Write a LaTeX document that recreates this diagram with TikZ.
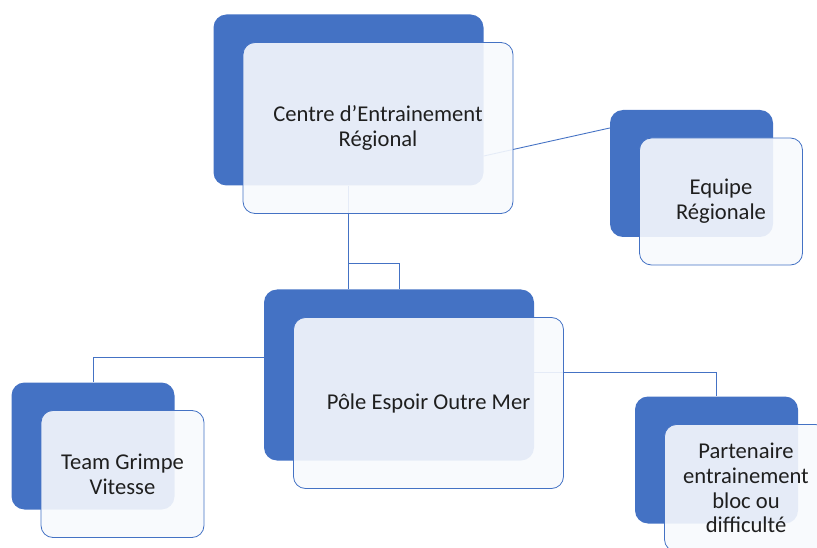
\documentclass[tikz,border=0pt]{standalone}
\usepackage{fontspec}
\setmainfont{Carlito}
\usetikzlibrary{calc,positioning}
\definecolor{accentblue}{HTML}{4472C4}
\definecolor{litefill}{HTML}{F7F9FD}
\tikzset{
  darkbox/.style={rounded corners=13pt, fill=accentblue, draw=none},
  litebox/.style={rounded corners=12pt, draw=accentblue, line width=0.8pt, fill=litefill,
    fill opacity=0.9, text opacity=1, text=black!88, align=center,
    font=\fontsize{22.6}{24.8}\selectfont},
  bigsize/.style={minimum width=270pt, minimum height=171pt, inner sep=0pt},
  smallsize/.style={minimum width=163pt, minimum height=127pt, inner sep=0pt},
  link/.style={draw=accentblue, line width=0.9pt}
}
\begin{document}
\begin{tikzpicture}[x=1pt,y=-1pt]
		\useasboundingbox (0,0) rectangle (817,548);
		
		%%%%% back boxes %%%%%
		\node[darkbox, bigsize]   (cerD)  at (348.5,100) {};
		\node[darkbox, smallsize] (eqD)   at (691.5,173.5) {};
		\node[darkbox, bigsize]   (poleD) at (399,375) {};
		\node[darkbox, smallsize] (teamD) at (93,446) {};
		\node[darkbox, smallsize] (partD) at (716.5,460) {};
		
		%%%%% connectors %%%%%
		\coordinate (elbowCP) at ($(poleD.north)+(0,-26)$);
		\draw[link] (cerD.south) -- (cerD.south |- poleD.north);
		\draw[link] (cerD.south |- elbowCP) -| (poleD.north);
		\draw[link] ([yshift=-56]cerD.east) -- ([yshift=45.5]eqD.west);
		\draw[link] ([yshift=18]poleD.west) -| (teamD.north);
		\draw[link] ([yshift=3]poleD.east) -| (partD.north);
		
		%%%%% front boxes %%%%%
		\node[litebox, bigsize]   (cer)  at ($(cerD)+(29.5,28)$) {Centre d’Entrainement\\Régional};
		\node[litebox, smallsize] (eq)   at ($(eqD)+(29.5,28)$) {Equipe\\Régionale};
		\node[litebox, bigsize]   (pole) at ($(poleD)+(29.5,28)$) {Pôle Espoir Outre Mer};
		\node[litebox, smallsize] (team) at ($(teamD)+(29.5,28)$) {Team Grimpe\\Vitesse};
		\node[litebox, smallsize] (part) at ($(partD)+(29.5,28)$) {Partenaire\\entrainement\\bloc ou\\difficulté};
		
	\end{tikzpicture}
\end{document}
